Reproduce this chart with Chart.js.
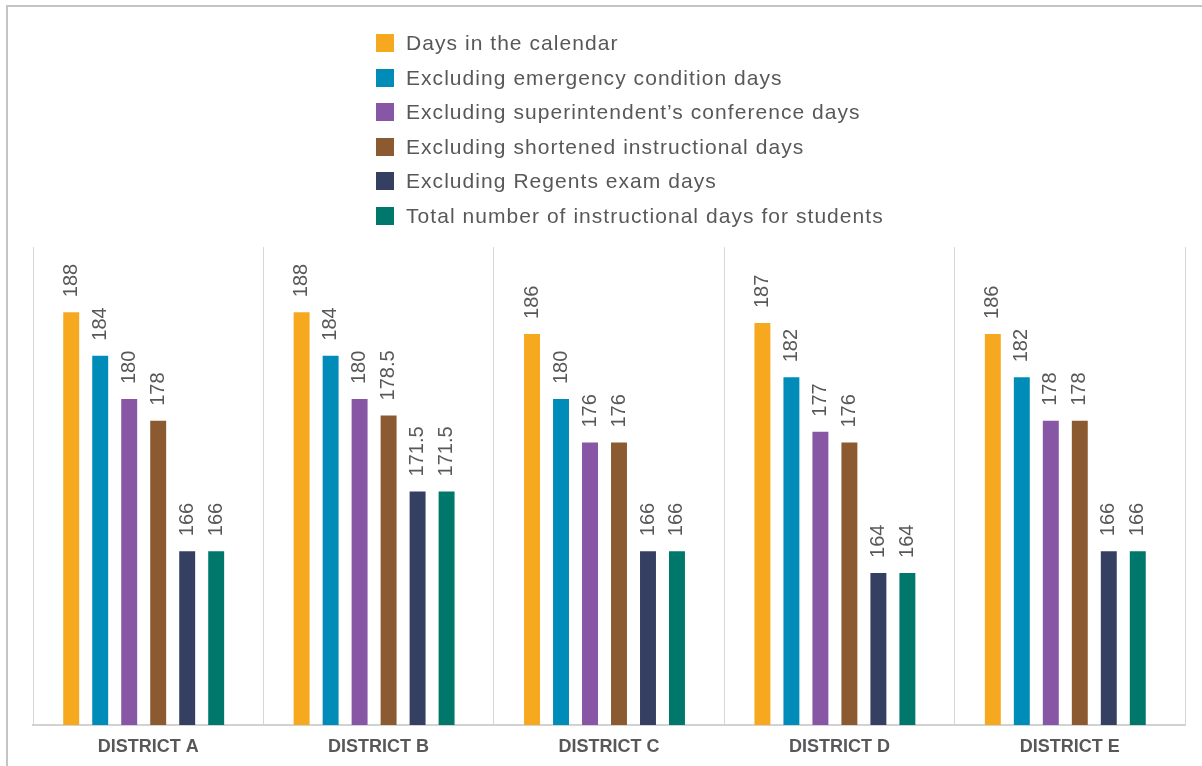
<!DOCTYPE html>
<html>
<head>
<meta charset="utf-8">
<script src="https://cdn.jsdelivr.net/npm/chart.js@4/dist/chart.umd.min.js"></script>
<style>
  html, body { margin: 0; padding: 0; background: #fff; }
  #wrap { position: relative; width: 1202px; height: 766px; overflow: hidden; }
  #frame { position: absolute; left: 6px; top: 5px; width: 1300px; height: 900px;
           border-top: 2px solid #c4c4c4; border-left: 2px solid #c4c4c4; }
  #chart { position: absolute; left: 0; top: 0; }
  #legend { position: absolute; left: 376px; top: 34px; margin: 0; padding: 0; list-style: none;
            font-family: "Liberation Sans", Arial, sans-serif; font-size: 21px; color: #58585a;
            letter-spacing: 1.05px; }
  #legend li { height: 34.6px; display: flex; align-items: flex-start; white-space: nowrap; }
  #legend span.box { display: inline-block; width: 18px; height: 18px; margin-right: 12px; flex: none; }
  #legend span.txt { line-height: 18px; }
</style>
</head>
<body>
<div id="wrap">
  <div id="frame"></div>
  <canvas id="chart" width="1202" height="766"></canvas>
  <ul id="legend"></ul>
</div>
<script>
// districts on the x axis
var districts = ['DISTRICT A', 'DISTRICT B', 'DISTRICT C', 'DISTRICT D', 'DISTRICT E'];

var seriesNames = [
  'Days in the calendar',
  'Excluding emergency condition days',
  'Excluding superintendent\u2019s conference days',
  'Excluding shortened instructional days',
  'Excluding Regents exam days',
  'Total number of instructional days for students'
];

var calendarDays     = [188, 188, 186, 187, 186];
var emergencyDays    = [184, 184, 180, 182, 182];
var conferenceDays   = [180, 180, 176, 177, 178];
var shortenedDays    = [178, 178.5, 176, 176, 178];
var regentsDays      = [166, 171.5, 166, 164, 166];
var instructionDays  = [166, 171.5, 166, 164, 166];

var colors = ['#f6a81f', '#008cb9', '#8756a5', '#8c5a30', '#343f62', '#00776b'];

var allSeries = [calendarDays, emergencyDays, conferenceDays, shortenedDays, regentsDays, instructionDays];

var datasets = allSeries.map(function (vals, i) {
  return {
    label: seriesNames[i],
    data: vals,
    backgroundColor: colors[i],
    borderWidth: 0,
    categoryPercentage: 0.755,
    barPercentage: 0.55
  };
});

// bar groups sit a little left of centre in the original, plus rotated value labels
var valueLabels = {
  id: 'valueLabels',
  beforeDatasetsDraw: function (chart) {
    chart.ctx.save();
    chart.ctx.translate(-4.5, 0);
  },
  afterDatasetsDraw: function (chart) {
    var ctx = chart.ctx;
    ctx.save();
    ctx.font = '20px "Liberation Sans", Arial, sans-serif';
    ctx.fillStyle = '#58585a';
    ctx.textAlign = 'left';
    ctx.textBaseline = 'middle';
    chart.data.datasets.forEach(function (ds, i) {
      chart.getDatasetMeta(i).data.forEach(function (bar, j) {
        ctx.save();
        ctx.translate(bar.x, bar.y - 15);
        ctx.rotate(-Math.PI / 2);
        ctx.fillText(String(ds.data[j]), 0, 0);
        ctx.restore();
      });
    });
    ctx.restore();
    ctx.restore();
  }
};

var chart = new Chart(document.getElementById('chart').getContext('2d'), {
  type: 'bar',
  data: { labels: districts, datasets: datasets },
  options: {
    responsive: false,
    animation: false,
    layout: { padding: { left: 33, right: 17, top: 247, bottom: 0 } },
    plugins: { legend: { display: false }, tooltip: { enabled: false } },
    scales: {
      x: {
        grid: { offset: true, color: '#d6d6d6', lineWidth: 1, drawTicks: false },
        border: { color: '#d2d2d2', width: 2 },
        ticks: {
          color: '#58585a',
          padding: 11,
          font: { family: '"Liberation Sans", Arial, sans-serif', size: 18, weight: 'bold' }
        },
        afterFit: function (scale) { scale.height = 41; }
      },
      y: {
        display: false,
        min: 150,
        max: 194
      }
    }
  },
  plugins: [valueLabels]
});

// html legend, one row per series
var legend = document.getElementById('legend');
chart.data.datasets.forEach(function (ds) {
  var li = document.createElement('li');
  li.innerHTML = '<span class="box" style="background:' + ds.backgroundColor + '"></span>' +
                 '<span class="txt">' + ds.label + '</span>';
  legend.appendChild(li);
});
</script>
</body>
</html>
